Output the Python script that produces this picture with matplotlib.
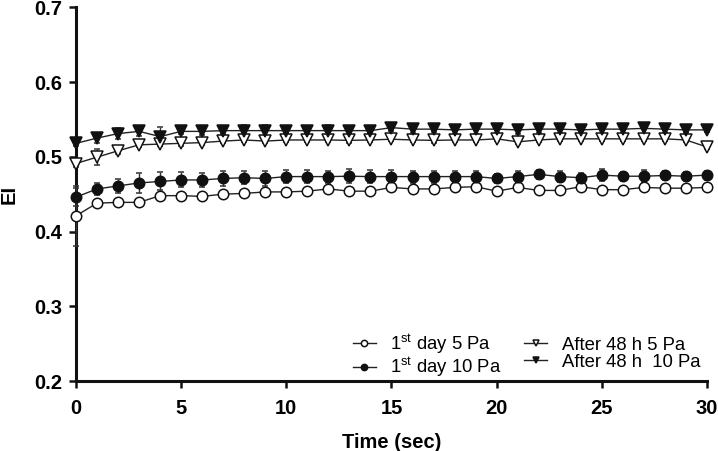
#!/usr/bin/env python3
import matplotlib

matplotlib.use("Agg")
import matplotlib.pyplot as plt
import numpy as np

plt.rcParams["font.family"] = ["Liberation Sans", "DejaVu Sans"]
plt.rcParams["mathtext.fontset"] = "custom"
plt.rcParams["mathtext.rm"] = "Liberation Sans"
plt.rcParams["mathtext.it"] = "Liberation Sans:italic"
plt.rcParams["mathtext.bf"] = "Liberation Sans:bold"

time_sec = np.arange(0, 31)

day1_5pa = [0.421, 0.438, 0.439, 0.439, 0.448, 0.448, 0.447, 0.450, 0.451, 0.453,
            0.453, 0.454, 0.457, 0.454, 0.454, 0.459, 0.457, 0.457, 0.459, 0.460,
            0.454, 0.459, 0.455, 0.455, 0.460, 0.456, 0.456, 0.459, 0.458, 0.458, 0.459]
day1_5pa_err = [0.040, 0.003, 0.003, 0.003, 0.003, 0.003, 0.003, 0.003, 0.003, 0.003,
                0.003, 0.003, 0.003, 0.003, 0.003, 0.003, 0.003, 0.003, 0.003, 0.003,
                0.003, 0.003, 0.003, 0.003, 0.003, 0.003, 0.003, 0.003, 0.003, 0.003, 0.003]

day1_10pa = [0.446, 0.457, 0.461, 0.465, 0.467, 0.469, 0.469, 0.471, 0.472, 0.471,
             0.4735, 0.4735, 0.4735, 0.474, 0.4735, 0.4735, 0.4735, 0.4735, 0.4735, 0.4735,
             0.471, 0.4735, 0.4765, 0.4735, 0.472, 0.4755, 0.474, 0.474, 0.475, 0.474, 0.4755]
day1_10pa_err = [0.012, 0.008, 0.009, 0.013, 0.012, 0.010, 0.009, 0.010, 0.009, 0.010,
                 0.009, 0.009, 0.008, 0.009, 0.009, 0.009, 0.008, 0.008, 0.008, 0.007,
                 0.006, 0.007, 0.006, 0.007, 0.006, 0.008, 0.006, 0.008, 0.006, 0.006, 0.006]

h48_5pa = [0.491, 0.4995, 0.508, 0.516, 0.517, 0.518, 0.519, 0.521, 0.5225, 0.521,
           0.5225, 0.5225, 0.5225, 0.522, 0.5225, 0.5235, 0.5225, 0.522, 0.5225, 0.5225,
           0.524, 0.520, 0.5225, 0.524, 0.524, 0.524, 0.524, 0.524, 0.524, 0.5225, 0.513]
h48_5pa_err = [0.005, 0.011, 0.004, 0.003, 0.003, 0.003, 0.003, 0.003, 0.003, 0.003,
               0.003, 0.003, 0.003, 0.003, 0.003, 0.003, 0.003, 0.003, 0.003, 0.003,
               0.003, 0.003, 0.003, 0.003, 0.003, 0.003, 0.003, 0.003, 0.003, 0.003, 0.003]

h48_10pa = [0.518, 0.525, 0.531, 0.534, 0.527, 0.534, 0.534, 0.535, 0.535, 0.535,
            0.535, 0.535, 0.535, 0.535, 0.535, 0.539, 0.537, 0.537, 0.536, 0.537,
            0.537, 0.536, 0.537, 0.537, 0.536, 0.537, 0.537, 0.538, 0.537, 0.536, 0.536]
h48_10pa_err = [0.004, 0.006, 0.007, 0.006, 0.013, 0.004, 0.005, 0.005, 0.007, 0.007,
                0.005, 0.005, 0.007, 0.005, 0.005, 0.005, 0.005, 0.004, 0.005, 0.007,
                0.005, 0.005, 0.005, 0.005, 0.005, 0.007, 0.005, 0.007, 0.005, 0.004, 0.003]

labels = ["1$^{\\rm st}$ day 5 Pa", "1$^{\\rm st}$ day 10 Pa",
          "After 48 h 5 Pa", "After 48 h  10 Pa"]

fig = plt.figure(figsize=(7.18, 4.51), dpi=100)
ax = fig.add_axes([0.1058, 0.1552, 0.8789, 0.8286])

series = [
    (day1_5pa, day1_5pa_err, "o", "white", 7.5),
    (day1_10pa, day1_10pa_err, "o", "#111111", 7.5),
    (h48_5pa, h48_5pa_err, "v", "white", 8.0),
    (h48_10pa, h48_10pa_err, "v", "#111111", 8.0),
]
handles = []
for (vals, errs, mk, face, ms), lab in zip(series, labels):
    h = ax.errorbar(time_sec, vals, yerr=errs, fmt=mk + "-", color="#222222",
                    mfc=face, mec="#111111", mew=1.1, ms=ms, lw=1.0,
                    elinewidth=1.0, ecolor="#333333", capsize=2.5, capthick=1.0,
                    label=lab, clip_on=False, zorder=3)
    handles.append(h)

ax.set_xlim(0, 30)
ax.set_ylim(0.2, 0.7)
ax.set_xticks([0, 5, 10, 15, 20, 25, 30])
ax.set_yticks([0.2, 0.3, 0.4, 0.5, 0.6, 0.7])
ax.set_yticklabels(["0.2", "0.3", "0.4", "0.5", "0.6", "0.7"])

for side in ["top", "right"]:
    ax.spines[side].set_visible(False)
for side in ["left", "bottom"]:
    ax.spines[side].set_linewidth(2.2)
    ax.spines[side].set_color("#111111")

ax.tick_params(axis="both", direction="out", length=5, width=1.8, color="#111111",
               labelsize=14.5)
ax.tick_params(axis="x", pad=8)
ax.tick_params(axis="y", pad=5)
for lbl in ax.get_xticklabels() + ax.get_yticklabels():
    lbl.set_fontweight("bold")

ax.set_xlabel("Time (sec)", fontsize=14.5, fontweight="bold", labelpad=11)
ax.set_ylabel("EI", fontsize=14.5, fontweight="bold", labelpad=11)

leg_handles = [h[0] for h in handles]
leg = ax.legend(leg_handles, labels, ncol=2, frameon=False, loc="lower right",
                bbox_to_anchor=(1.016, -0.04), fontsize=13.3, handlelength=1.25,
                markerscale=0.6, columnspacing=1.2, handletextpad=0.8,
                labelspacing=0.0)

fig.savefig("out.png", dpi=100)
